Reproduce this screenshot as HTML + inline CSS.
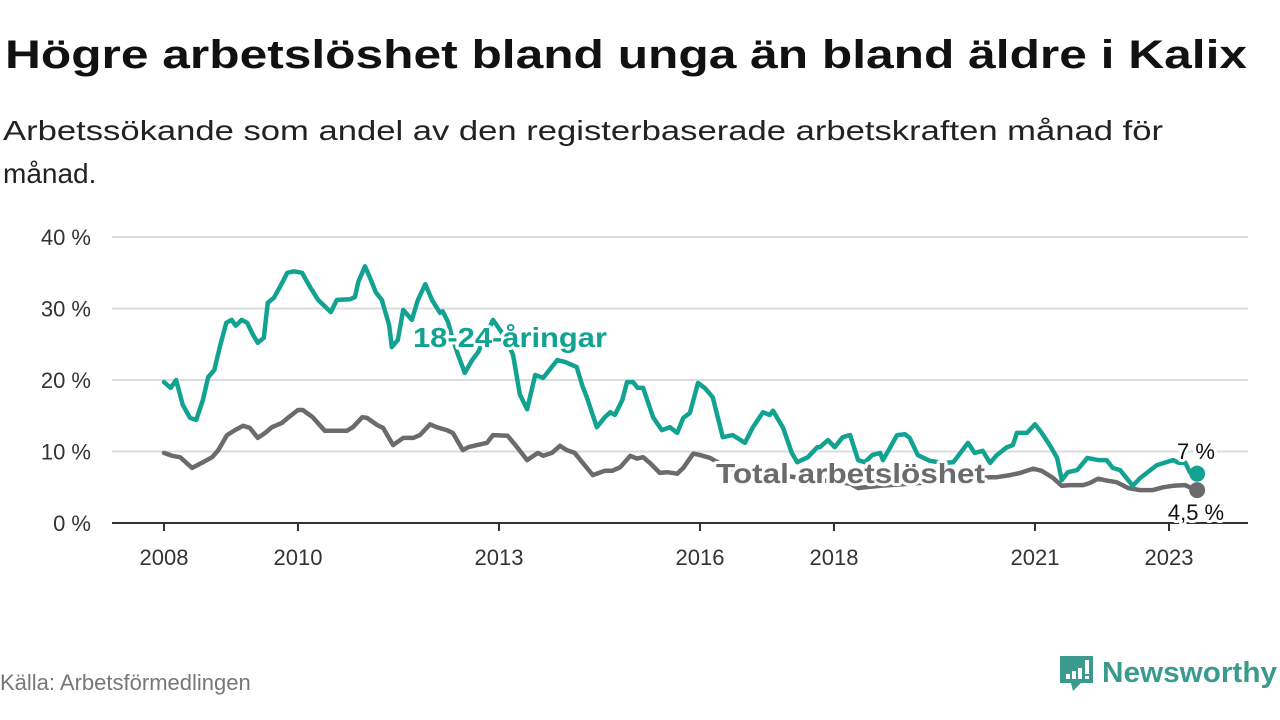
<!DOCTYPE html>
<html><head><meta charset="utf-8"><style>
html,body{margin:0;padding:0;background:#fff;}
svg{display:block;font-family:"Liberation Sans",sans-serif;}
</style></head><body>
<svg id="chart" width="1280" height="720" viewBox="0 0 1280 720">
  <text x="5" y="68" font-size="40" font-weight="bold" fill="#111" textLength="1242" lengthAdjust="spacingAndGlyphs">Högre arbetslöshet bland unga än bland äldre i Kalix</text>
  <text x="3" y="140" font-size="28" fill="#222" textLength="1160" lengthAdjust="spacingAndGlyphs">Arbetssökande som andel av den registerbaserade arbetskraften månad för</text>
  <text x="3" y="183" font-size="28" fill="#222">månad.</text>
  <g id="grid"></g>
  <g id="xaxis"></g>
  <g id="series"></g>
  <g id="labels"></g>
  <text x="0" y="690" font-size="22" fill="#777">Källa: Arbetsförmedlingen</text>
  <g>
    <path d="M1060 656 h33 v27 h-12 l-8 8 l-2 -8 h-11 z" fill="#3a9a8e"/>
    <rect x="1066" y="674" width="4" height="5" fill="#fff"/>
    <rect x="1072" y="671" width="4" height="8" fill="#fff"/>
    <rect x="1078" y="668" width="4" height="11" fill="#fff"/>
    <rect x="1085" y="660" width="4" height="14" fill="#fff"/>
    <rect x="1085" y="676" width="4" height="3" fill="#fff"/>
    <text x="1102" y="682" font-size="29" font-weight="bold" fill="#3a9a8e" textLength="175" lengthAdjust="spacingAndGlyphs">Newsworthy</text>
  </g>
</svg>
<script>
const yTicks = [0, 10, 20, 30, 40];
const yTickLabels = ["0 %", "10 %", "20 %", "30 %", "40 %"];
const xTicks = [2008, 2010, 2013, 2016, 2018, 2021, 2023];
const youthDates = [2008.00,2008.10,2008.18,2008.28,2008.39,2008.48,2008.58,2008.66,2008.75,2008.84,2008.93,2009.01,2009.07,2009.16,2009.24,2009.33,2009.40,2009.49,2009.55,2009.64,2009.73,2009.84,2009.94,2010.06,2010.18,2010.30,2010.49,2010.58,2010.78,2010.85,2010.90,2011.00,2011.07,2011.16,2011.25,2011.36,2011.40,2011.49,2011.57,2011.70,2011.79,2011.90,2012.00,2012.12,2012.16,2012.24,2012.30,2012.39,2012.49,2012.60,2012.69,2012.91,2013.09,2013.21,2013.31,2013.42,2013.54,2013.66,2013.87,2013.99,2014.16,2014.25,2014.31,2014.46,2014.58,2014.66,2014.73,2014.84,2014.91,2015.00,2015.07,2015.15,2015.30,2015.43,2015.55,2015.66,2015.75,2015.85,2015.97,2016.07,2016.19,2016.34,2016.49,2016.67,2016.79,2016.94,2017.04,2017.09,2017.24,2017.37,2017.45,2017.61,2017.75,2017.79,2017.91,2018.01,2018.13,2018.24,2018.36,2018.46,2018.57,2018.69,2018.73,2018.84,2018.94,2019.06,2019.13,2019.25,2019.43,2019.63,2019.78,2020.00,2020.10,2020.22,2020.33,2020.43,2020.58,2020.67,2020.73,2020.88,2021.00,2021.10,2021.22,2021.33,2021.40,2021.49,2021.63,2021.78,2021.94,2022.07,2022.16,2022.27,2022.46,2022.57,2022.82,2023.06,2023.15,2023.24,2023.31,2023.42];
const youthValues = [19.7,18.9,20,16.5,14.7,14.4,17.2,20.4,21.4,24.9,28,28.4,27.6,28.4,28,26.3,25.2,25.9,30.8,31.5,33,35,35.2,35,33,31.2,29.5,31.2,31.3,31.6,33.7,35.9,34.4,32.3,31.2,27.7,24.6,25.6,29.8,28.4,31.2,33.4,31.2,29.4,29.6,28.1,26,23.5,21,22.8,23.9,28.4,26,23.5,18,15.9,20.7,20.3,22.8,22.5,21.8,19,17.6,13.4,14.8,15.5,15.1,17.2,19.7,19.7,18.9,18.9,14.8,13,13.4,12.6,14.7,15.4,19.6,18.9,17.6,12,12.3,11.2,13.4,15.5,15.1,15.7,13.3,9.8,8.5,9.2,10.6,10.6,11.6,10.6,12,12.3,8.8,8.5,9.5,9.8,8.8,10.6,12.3,12.4,11.9,9.5,8.7,8.4,8.5,11.2,9.8,10.1,8.4,9.5,10.6,10.9,12.6,12.6,13.8,12.6,10.9,9.1,6,7.1,7.4,9.1,8.8,8.8,7.7,7.4,5.2,6.3,8.1,8.8,8.4,8.5,7.1,6.9];
const totalDates = [2008.00,2008.12,2008.24,2008.42,2008.58,2008.72,2008.81,2008.94,2009.06,2009.18,2009.28,2009.40,2009.51,2009.61,2009.76,2009.85,2010.00,2010.07,2010.22,2010.40,2010.55,2010.73,2010.82,2010.96,2011.03,2011.18,2011.27,2011.42,2011.57,2011.72,2011.82,2011.97,2012.07,2012.22,2012.31,2012.46,2012.54,2012.67,2012.82,2012.91,2013.13,2013.27,2013.42,2013.58,2013.66,2013.79,2013.91,2014.01,2014.13,2014.25,2014.40,2014.58,2014.69,2014.81,2014.96,2015.06,2015.15,2015.25,2015.40,2015.51,2015.66,2015.75,2015.90,2016.00,2016.15,2016.45,2016.90,2017.34,2017.79,2018.24,2018.36,2018.69,2019.13,2019.58,2020.03,2020.33,2020.43,2020.63,2020.78,2020.97,2021.10,2021.27,2021.40,2021.52,2021.72,2021.82,2021.94,2022.09,2022.22,2022.39,2022.57,2022.76,2022.91,2023.06,2023.24,2023.31,2023.42];
const totalValues = [9.8,9.4,9.2,7.7,8.5,9.2,10.2,12.3,13,13.6,13.3,11.9,12.6,13.4,14,14.7,15.8,15.8,14.8,12.9,12.9,12.9,13.4,14.8,14.7,13.7,13.3,10.9,11.9,11.9,12.3,13.8,13.4,13,12.6,10.2,10.6,10.9,11.2,12.3,12.2,10.6,8.8,9.8,9.4,9.8,10.8,10.2,9.8,8.4,6.7,7.3,7.3,7.8,9.4,9,9.2,8.4,7,7.1,6.9,7.7,9.7,9.5,9.1,7.5,7,6.5,6,5.5,4.9,5.2,5.5,5.8,6.2,6.4,6.4,6.7,7,7.6,7.3,6.3,5.2,5.3,5.3,5.6,6.2,5.9,5.7,4.9,4.6,4.6,5,5.2,5.3,5,4.6];

const NS = "http://www.w3.org/2000/svg";
const x = yr => 164 + (yr - 2008) * 67;
const y = v => 523 - v * 7.15;
function mk(tag, attrs, parent) {
  const el = document.createElementNS(NS, tag);
  for (const k in attrs) el.setAttribute(k, attrs[k]);
  parent.appendChild(el);
  return el;
}
const grid = document.getElementById('grid');
yTicks.forEach((t, i) => {
  if (t > 0) {
    const g = mk('line', {x1: 112, x2: 1248, y1: y(t), y2: y(t), stroke: '#dcdcdc', 'stroke-width': 2}, grid);
    
    
  }
  const lbl = mk('text', {x: 91, y: y(t) + 8, 'text-anchor': 'end', 'font-size': 22, fill: '#333'}, grid);
  lbl.textContent = yTickLabels[i];
  
  
});
const xa = document.getElementById('xaxis');
const axis = mk('line', {x1: 112, x2: 1248, y1: 523, y2: 523, stroke: '#333', 'stroke-width': 2}, xa);


xTicks.forEach(t => {
  const tk = mk('line', {x1: x(t), x2: x(t), y1: 523, y2: 531, stroke: '#333', 'stroke-width': 2}, xa);
  
  
  const lbl = mk('text', {x: x(t), y: 565, 'text-anchor': 'middle', 'font-size': 22, fill: '#333'}, xa);
  lbl.textContent = t;
  
  
});
const ser = document.getElementById('series');
function drawLine(dates, vals, color, name) {
  const d = dates.map((dt, i) => (i ? 'L' : 'M') + x(dt).toFixed(1) + ' ' + y(vals[i]).toFixed(1)).join(' ');
  const p = mk('path', {d: d, fill: 'none', stroke: color, 'stroke-width': 4.5, 'stroke-linejoin': 'round', 'stroke-linecap': 'round'}, ser);
  
  
  const n = dates.length - 1;
  const c = mk('circle', {cx: x(dates[n]), cy: y(vals[n]), r: 8, fill: color}, ser);
  
  
}
drawLine(totalDates, totalValues, '#6b6b6e', 'total-line');
drawLine(youthDates, youthValues, '#12a292', 'youth-line');
const lb = document.getElementById('labels');
function label(txt, xx, yy, color, size, bold, anchor, name, len) {
  const t = mk('text', {x: xx, y: yy, fill: color, 'font-size': size, 'font-weight': bold ? 'bold' : 'normal', 'text-anchor': anchor, stroke: '#fff', 'stroke-width': 6, 'paint-order': 'stroke', 'stroke-linejoin': 'round'}, lb);
  if (len) { t.setAttribute('textLength', len); t.setAttribute('lengthAdjust', 'spacingAndGlyphs'); }
  t.textContent = txt;
  
  
}
label('18-24-åringar', 413, 347, '#12a292', 28, true, 'start', 'youth-series-label', 194);
label('Total arbetslöshet', 716, 483, '#6b6b6e', 28, true, 'start', 'total-series-label', 269);
label('7 %', 1196, 459, '#111', 22, false, 'middle', 'youth-end-value');
label('4,5 %', 1196, 520, '#111', 22, false, 'middle', 'total-end-value');
</script>
</body></html>
